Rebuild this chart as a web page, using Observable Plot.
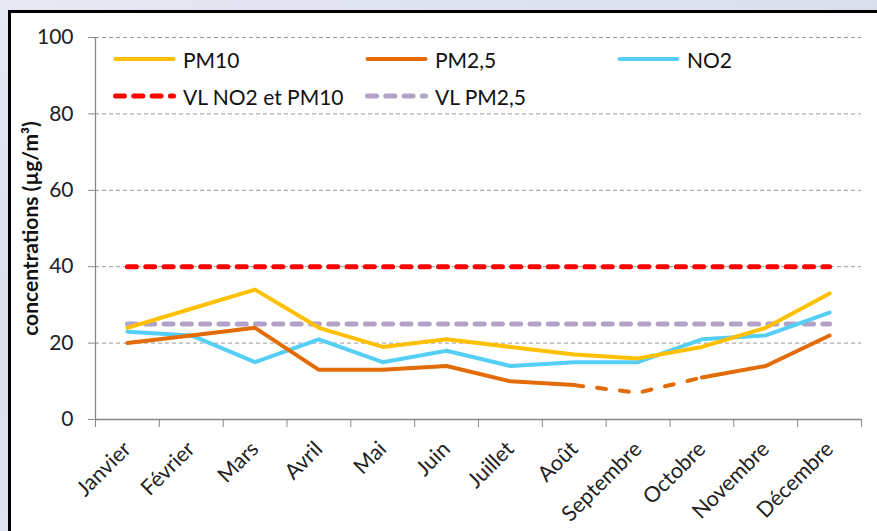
<!DOCTYPE html>
<html>
<head>
<meta charset="utf-8">
<script src="https://cdn.jsdelivr.net/npm/d3@7"></script>
<script src="https://cdn.jsdelivr.net/npm/@observablehq/plot@0.6"></script>
<style>
  html, body { margin: 0; padding: 0; }
  body { width: 877px; height: 531px; overflow: hidden; position: relative;
         background: linear-gradient(160deg, #e6e8f3 0%, #d9deee 40%, #e9ebf5 100%);
         font-family: Lato, "Open Sans", sans-serif; }
  #frame { position: absolute; left: 8px; top: 10px; width: 900px; height: 560px;
           background: #fff; border: 3px solid #000; box-sizing: border-box; }
  #chart { position: absolute; left: 0; top: 0; }
  .leg { position: absolute; display: flex; align-items: center; font-size: 21px; color: #111; }
  .leg svg { margin-right: 7px; }
</style>
</head>
<body>
<div id="frame"></div>
<div id="chart"></div>
<div id="legend"></div>
<script>
const months = ["Janvier", "Février", "Mars", "Avril", "Mai", "Juin", "Juillet", "Août", "Septembre", "Octobre", "Novembre", "Décembre"];
const pm10 = [24, 29, 34, 24, 19, 21, 19, 17, 16, 19, 24, 33];
const pm25 = [20, 22, 24, 13, 13, 14, 10, 9, 7, 11, 14, 22];
const no2  = [23, 22, 15, 21, 15, 18, 14, 15, 15, 21, 22, 28];
const vlNo2Pm10 = [40, 40, 40, 40, 40, 40, 40, 40, 40, 40, 40, 40];
const vlPm25 = [25, 25, 25, 25, 25, 25, 25, 25, 25, 25, 25, 25];
const pm25DashedMonths = ["Août", "Septembre", "Octobre"];
const pm25MissingMonth = "Septembre";
const yTicks = [0, 20, 40, 60, 80, 100];
const yLabel = "concentrations (µg/m³)";

const colors = {pm10: "#ffc000", pm25: "#e36c09", no2: "#55cff6", vlNo2Pm10: "#ff0000", vlPm25: "#b3a2c7"};

const rows = (vals) => months.map((m, i) => ({i: i + 0.5, m, v: vals[i]}));
const pm25Solid = months.map((m, i) => ({i: i + 0.5, m, v: m === pm25MissingMonth ? NaN : pm25[i]}));
const pm25Dashed = rows(pm25).filter(d => pm25DashedMonths.includes(d.m));

const chart = Plot.plot({
  width: 877, height: 531,
  marginLeft: 95, marginRight: 16, marginTop: 37, marginBottom: 112,
  style: {background: "transparent", fontFamily: "Lato, 'Open Sans', sans-serif", color: "#222"},
  x: {type: "linear", domain: [0, months.length]},
  y: {domain: [0, 100]},
  marks: [
    Plot.gridY(yTicks.slice(1), {stroke: "#999", strokeOpacity: 1, strokeDasharray: "4,3", strokeWidth: 1}),
    Plot.axisY({ticks: yTicks, tickSize: 7, tickPadding: 15, fontSize: 21, stroke: "#888", label: null}),
    Plot.axisX({ticks: d3.range(months.length + 1), tickSize: 8, tickFormat: () => "", stroke: "#888", label: null}),
    Plot.axisX({ticks: months.map((m, i) => i + 0.5), tickSize: 0, tickPadding: 26, tickRotate: -45,
                tickFormat: d => months[Math.floor(d)], fontSize: 21.5, label: null}),
    Plot.ruleY([0], {stroke: "#888", strokeWidth: 1.3}),
    Plot.ruleX([0], {stroke: "#888", strokeWidth: 1.3}),
    Plot.text([yLabel], {frameAnchor: "left", textAnchor: "middle", dx: -64, rotate: -90, fontWeight: "bold", fontSize: 21, fill: "#111"}),
    Plot.line(rows(vlNo2Pm10), {x: "i", y: "v", stroke: colors.vlNo2Pm10, strokeWidth: 5, strokeDasharray: "9,9.3", strokeLinecap: "round"}),
    Plot.line(rows(vlPm25), {x: "i", y: "v", stroke: colors.vlPm25, strokeWidth: 5, strokeDasharray: "9,9.3", strokeLinecap: "round"}),
    Plot.line(rows(no2), {x: "i", y: "v", stroke: colors.no2, strokeWidth: 4}),
    Plot.line(pm25Solid, {x: "i", y: "v", stroke: colors.pm25, strokeWidth: 4}),
    Plot.line(pm25Dashed, {x: "i", y: "v", stroke: colors.pm25, strokeWidth: 4, strokeDasharray: "9,14", strokeLinecap: "round"}),
    Plot.line(rows(pm10), {x: "i", y: "v", stroke: colors.pm10, strokeWidth: 4})
  ]
});
document.getElementById("chart").appendChild(chart);

const legendItems = [
  {label: "PM10", color: colors.pm10, dash: null, left: 113, top: 59},
  {label: "PM2,5", color: colors.pm25, dash: null, left: 365, top: 59},
  {label: "NO2", color: colors.no2, dash: null, left: 617, top: 59},
  {label: "VL NO2 et PM10", color: colors.vlNo2Pm10, dash: "9,9.3", left: 113, top: 96},
  {label: "VL PM2,5", color: colors.vlPm25, dash: "9,9.3", left: 365, top: 96}
];
const leg = document.getElementById("legend");
for (const it of legendItems) {
  const d = document.createElement("div");
  d.className = "leg";
  d.style.left = it.left + "px";
  d.style.top = (it.top - 14) + "px";
  d.style.height = "28px";
  const sw = d3.create("svg").attr("width", 63).attr("height", 10);
  sw.append("line").attr("x1", 2.5).attr("x2", 60.5).attr("y1", 5).attr("y2", 5)
    .attr("stroke", it.color).attr("stroke-width", it.dash ? 5 : 4).attr("stroke-linecap", "round")
    .attr("stroke-dasharray", it.dash);
  d.appendChild(sw.node());
  const t = document.createElement("span");
  t.textContent = it.label;
  d.appendChild(t);
  leg.appendChild(d);
}
</script>
</body>
</html>
